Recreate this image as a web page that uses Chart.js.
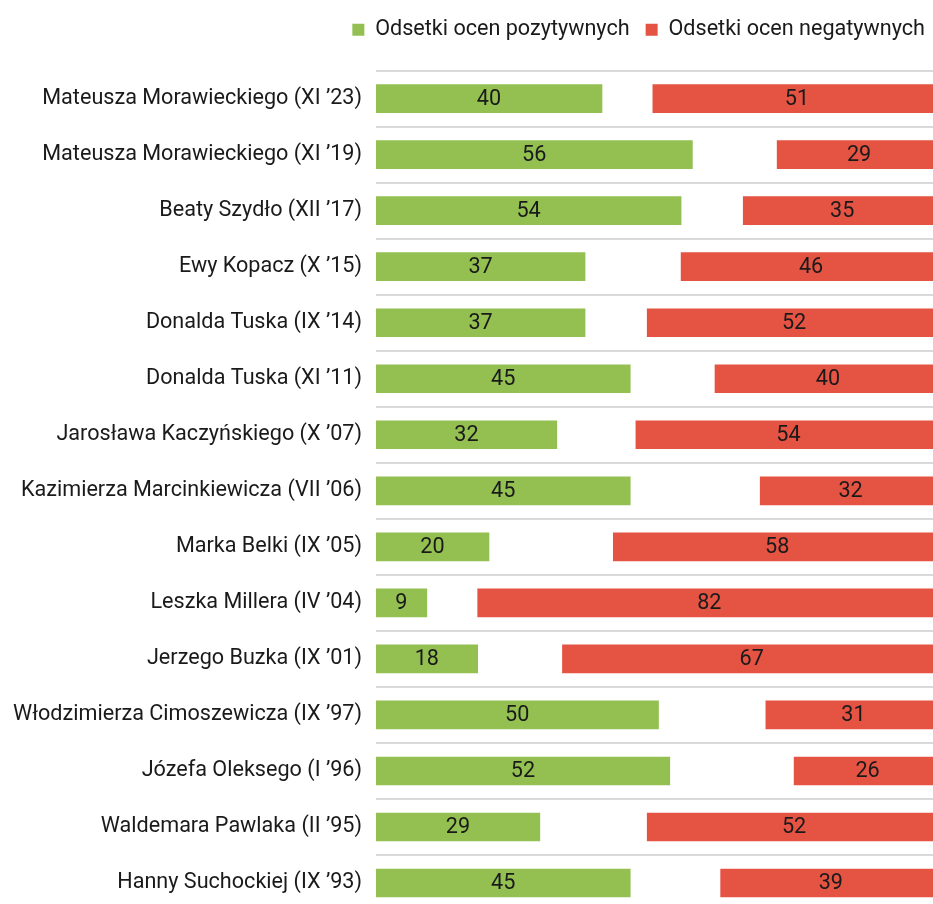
<!DOCTYPE html>
<html>
<head>
<meta charset="utf-8">
<script src="https://cdn.jsdelivr.net/npm/chart.js@4/dist/chart.umd.min.js"></script>
<style>
    html, body { margin: 0; padding: 0; background: #fff; overflow: hidden; }
    #ratingsChart { position: absolute; left: 0; top: 0; }
</style>
</head>
<body>
<canvas id="ratingsChart" width="941" height="938"></canvas>
<script>
const categories = [
    "Mateusza Morawieckiego (XI \u201923)",
    "Mateusza Morawieckiego (XI \u201919)",
    "Beaty Szydło (XII \u201917)",
    "Ewy Kopacz (X \u201915)",
    "Donalda Tuska (IX \u201914)",
    "Donalda Tuska (XI \u201911)",
    "Jarosława Kaczyńskiego (X \u201907)",
    "Kazimierza Marcinkiewicza (VII \u201906)",
    "Marka Belki (IX \u201905)",
    "Leszka Millera (IV \u201904)",
    "Jerzego Buzka (IX \u201901)",
    "Włodzimierza Cimoszewicza (IX \u201997)",
    "Józefa Oleksego (I \u201996)",
    "Waldemara Pawlaka (II \u201995)",
    "Hanny Suchockiej (IX \u201993)"
];

const positive = [40, 56, 54, 37, 37, 45, 32, 45, 20, 9, 18, 50, 52, 29, 45];
const negative = [51, 29, 35, 46, 52, 40, 54, 32, 58, 82, 67, 31, 26, 52, 39];

const total = 100;

// negative bars are pinned to the right end of the 0-100 scale
const negativeRanges = negative.map(v => [total - v, total]);

const FONT = "Roboto";
const FONT_SIZE = 21.6;

const barLabels = {
    id: "barLabels",
    afterDatasetsDraw(chart) {
        const ctx = chart.ctx;
        ctx.save();
        ctx.font = FONT_SIZE + "px " + FONT;
        ctx.fillStyle = "#1a1a1a";
        ctx.textAlign = "center";
        ctx.textBaseline = "middle";
        const sources = [positive, negative];
        chart.data.datasets.forEach((ds, i) => {
            const meta = chart.getDatasetMeta(i);
            meta.data.forEach((bar, j) => {
                const p = bar.getCenterPoint();
                ctx.fillText(String(sources[i][j]), p.x, p.y + 1);
            });
        });
        ctx.restore();
    }
};

// extra room under the legend, so the legend sits near the top edge
const legendGap = {
    id: "legendGap",
    beforeInit(chart) {
        const fit = chart.legend.fit;
        chart.legend.fit = function () {
            fit.call(this);
            this.height += 20;
        };
    }
};

new Chart(document.getElementById("ratingsChart"), {
    type: "bar",
    data: {
        labels: categories,
        datasets: [
            {
                label: "Odsetki ocen pozytywnych",
                data: positive,
                backgroundColor: "#93C051",
                barThickness: 28,
                grouped: false
            },
            {
                label: "Odsetki ocen negatywnych",
                data: negativeRanges,
                backgroundColor: "#E55343",
                barThickness: 28,
                grouped: false
            }
        ]
    },
    options: {
        indexAxis: "y",
        responsive: false,
        animation: false,
        layout: { padding: { top: 3, left: 0, right: 0, bottom: 0 } },
        plugins: {
            legend: {
                display: true,
                position: "top",
                align: "end",
                labels: {
                    font: { family: FONT, size: FONT_SIZE },
                    color: "#1a1a1a",
                    boxWidth: 12,
                    boxHeight: 12,
                    padding: 16
                }
            },
            tooltip: { enabled: false }
        },
        scales: {
            x: {
                display: false,
                min: 0,
                max: total
            },
            y: {
                grid: {
                    offset: true,
                    color: "#d9d9d9",
                    lineWidth: 2,
                    drawTicks: false
                },
                border: { display: false },
                ticks: {
                    font: { family: FONT, size: FONT_SIZE },
                    color: "#1a1a1a",
                    padding: 14
                },
                afterFit(scale) {
                    scale.width = 376;
                }
            }
        }
    },
    plugins: [barLabels, legendGap]
});
</script>
</body>
</html>
